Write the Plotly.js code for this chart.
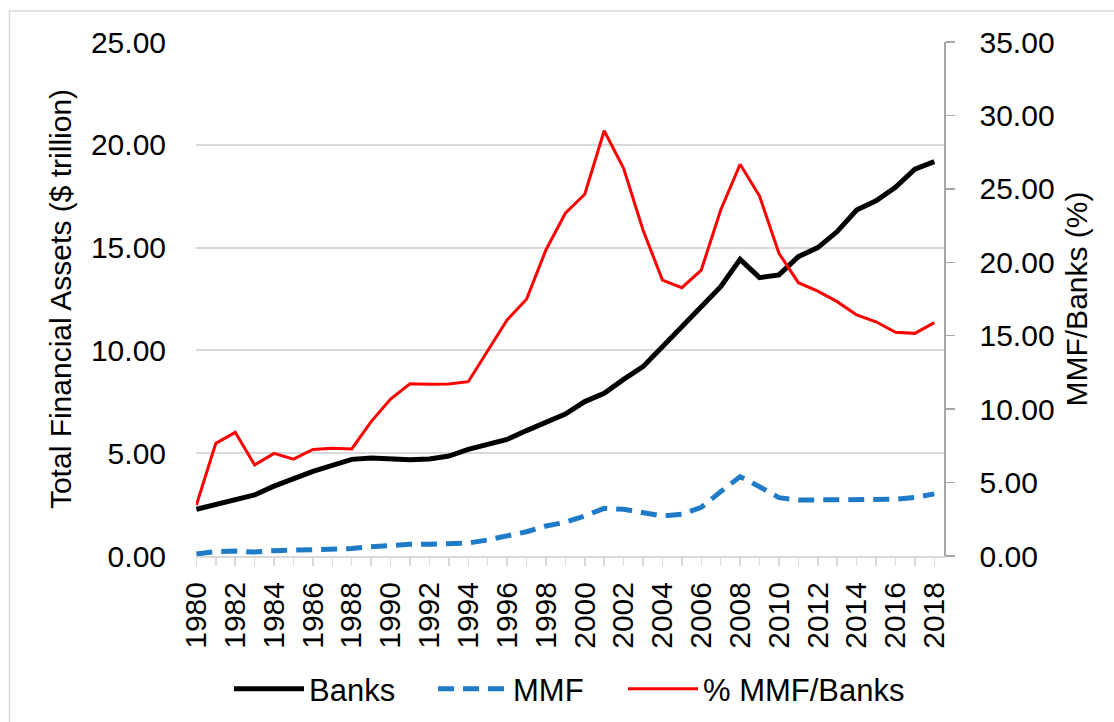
<!DOCTYPE html>
<html>
<head>
<meta charset="utf-8">
<script src="https://cdn.plot.ly/plotly-3.0.1.min.js"></script>
<style>
  html, body { margin: 0; padding: 0; background: #ffffff; }
  #chart { width: 1114px; height: 722px; }
</style>
</head>
<body>
<div id="chart"></div>
<script>
const years = [1980,1981,1982,1983,1984,1985,1986,1987,1988,1989,
               1990,1991,1992,1993,1994,1995,1996,1997,1998,1999,
               2000,2001,2002,2003,2004,2005,2006,2007,2008,2009,
               2010,2011,2012,2013,2014,2015,2016,2017,2018];

const banks = [2.27,2.51,2.72,2.97,3.40,3.76,4.12,4.41,4.70,4.77,
               4.73,4.68,4.72,4.86,5.19,5.43,5.67,6.10,6.53,6.90,
               7.51,7.91,8.59,9.21,10.18,11.15,12.05,13.10,14.43,13.54,
               13.67,14.56,15.00,15.78,16.83,17.28,17.93,18.81,19.18];

const mmf = [0.10,0.21,0.24,0.19,0.26,0.29,0.31,0.32,0.36,0.45,
             0.53,0.57,0.57,0.58,0.63,0.78,0.97,1.18,1.46,1.64,
             1.95,2.32,2.27,2.11,1.95,2.03,2.37,3.13,3.86,3.37,
             2.84,2.72,2.72,2.77,2.77,2.76,2.76,2.85,3.02];

const pctMmfBanks = [3.47,7.67,8.42,6.20,6.99,6.60,7.26,7.33,7.29,9.15,
                     10.69,11.73,11.69,11.71,11.87,13.98,16.07,17.48,20.84,23.34,
                     24.63,28.96,26.40,22.20,18.79,18.27,19.47,23.56,26.67,24.51,
                     20.61,18.61,18.04,17.32,16.41,15.95,15.23,15.16,15.89];

const seriesNames = ['Banks', 'MMF', '% MMF/Banks'];
const xTickVals = years.filter(y => (y - 1980) % 2 === 0);
const xTickText = xTickVals.map(String);

const FONT = 'Liberation Sans, Arial, sans-serif';

const traces = [
  { x: years, y: banks, name: seriesNames[0], type: 'scatter', mode: 'lines',
    line: { color: '#000000', width: 5 }, yaxis: 'y', legend: 'legend' },
  { x: years, y: mmf, name: seriesNames[1], type: 'scatter', mode: 'lines',
    line: { color: '#1f7ac8', width: 5, dash: '16px,9px' }, yaxis: 'y', legend: 'legend2' },
  { x: years, y: pctMmfBanks, name: seriesNames[2], type: 'scatter', mode: 'lines',
    line: { color: '#ff0000', width: 3 }, yaxis: 'y2', legend: 'legend3' }
];

const W = 1114, H = 722;
const L = 196, R = 944, T = 42, B = 556;
const pw = R - L, ph = B - T;

function legendAt(px) {
  return {
    orientation: 'h', x: (px - L) / pw, xanchor: 'left', y: (B - 689) / ph, yanchor: 'middle',
    font: { family: FONT, size: 31, color: '#000000' },
    itemwidth: 70, bgcolor: 'rgba(0,0,0,0)', borderwidth: 0
  };
}

const layout = {
  width: W, height: H,
  margin: { l: L, r: W - R, t: T, b: H - B, pad: 0, autoexpand: false },
  paper_bgcolor: '#ffffff',
  plot_bgcolor: '#ffffff',
  font: { family: FONT, color: '#000000', size: 30 },
  showlegend: true,
  legend: legendAt(229),
  legend2: legendAt(433),
  legend3: legendAt(623),
  xaxis: {
    range: [1979.98, 2018.5],
    tickmode: 'array', tickvals: xTickVals, ticktext: xTickText,
    tickangle: -90,
    tickfont: { family: FONT, size: 30, color: '#000000' },
    ticks: 'outside', ticklen: 8, tickcolor: '#d9d9d9', tickwidth: 1.5,
    ticklabelstandoff: 4,
    minor: { dtick: 1, tick0: 1980, ticks: 'outside', ticklen: 8, tickcolor: '#d9d9d9', tickwidth: 1.5, showgrid: false },
    showline: true, linecolor: '#d9d9d9', linewidth: 2,
    showgrid: false, zeroline: false
  },
  yaxis: {
    range: [0, 25], dtick: 5, tick0: 0, tickformat: '.2f',
    tickfont: { family: FONT, size: 30, color: '#000000' },
    showgrid: true, gridcolor: '#d9d9d9', gridwidth: 2,
    zeroline: false, showline: false, ticks: '', ticklabelstandoff: 29,
    title: { text: 'Total Financial Assets ($ trillion)', font: { family: FONT, size: 30, color: '#000000' }, standoff: 10 }
  },
  yaxis2: {
    range: [0, 35], dtick: 5, tick0: 0, tickformat: '.2f',
    overlaying: 'y', side: 'right',
    tickfont: { family: FONT, size: 30, color: '#000000' },
    showgrid: false, zeroline: false,
    showline: true, linecolor: '#a6a6a6', linewidth: 1.5,
    ticks: 'outside', ticklen: 9, tickcolor: '#a6a6a6', tickwidth: 1.5,
    ticklabelstandoff: 19,
    title: { text: 'MMF/Banks (%)', font: { family: FONT, size: 30, color: '#000000' }, standoff: 12 }
  },
  shapes: [
    { type: 'rect', xref: 'paper', yref: 'paper', layer: 'below',
      x0: (9.5 - L) / pw, x1: 1.6, y0: -0.6, y1: (B - 11) / ph,
      line: { color: '#d9d9d9', width: 1.5 }, fillcolor: 'rgba(0,0,0,0)' }
  ]
};

Plotly.newPlot('chart', traces, layout, { displayModeBar: false, staticPlot: true });
</script>
</body>
</html>
